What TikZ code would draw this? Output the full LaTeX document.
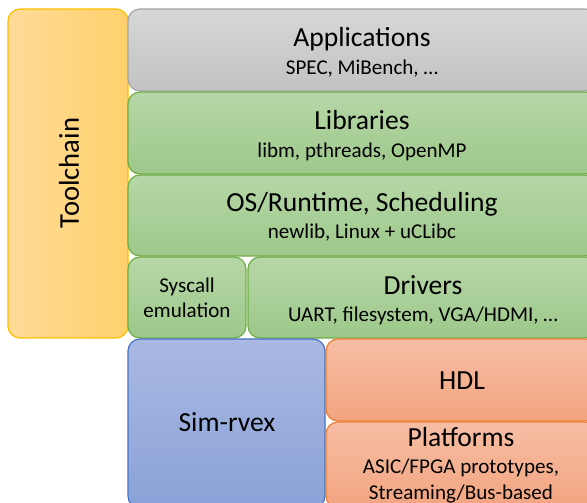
\documentclass[tikz,border=0pt]{standalone}
\usepackage{fontspec}
\setmainfont{Carlito}

\definecolor{grayTop}{HTML}{D7D7D7}
\definecolor{grayBot}{HTML}{C2C2C2}
\definecolor{grayLine}{HTML}{A5A5A5}
\definecolor{greenTop}{HTML}{B6D7A7}
\definecolor{greenBot}{HTML}{9DC88A}
\definecolor{greenLine}{HTML}{70AD47}
\definecolor{goldLeft}{HTML}{FFDB98}
\definecolor{goldRight}{HTML}{FFD16C}
\definecolor{goldLine}{HTML}{FFC000}
\definecolor{blueTop}{HTML}{AAB9E2}
\definecolor{blueBot}{HTML}{8AA2D8}
\definecolor{blueLine}{HTML}{4472C4}
\definecolor{orangeTop}{HTML}{F6BEA5}
\definecolor{orangeBot}{HTML}{F3A47F}
\definecolor{orangeLine}{HTML}{ED7D31}

\tikzset{every picture/.style={line width=0.9pt}}
\tikzset{
  layer/.style={rounded corners=9pt},
  graylayer/.style={layer, draw=grayLine, top color=grayTop, bottom color=grayBot},
  greenlayer/.style={layer, draw=greenLine, top color=greenTop, bottom color=greenBot},
  goldlayer/.style={layer, draw=goldLine, left color=goldLeft, right color=goldRight},
  bluelayer/.style={layer, draw=blueLine, top color=blueTop, bottom color=blueBot},
  orangelayer/.style={layer, draw=orangeLine, top color=orangeTop, bottom color=orangeBot},
  titletext/.style={anchor=base, inner sep=0pt, font=\fontsize{20.7}{25}\selectfont},
  subtext/.style={anchor=base, inner sep=0pt, font=\fontsize{15.8}{19}\selectfont},
}

\begin{document}
\begin{tikzpicture}[x=0.75pt,y=0.75pt,yscale=-1,xscale=1]
\clip (0,0) rectangle (587,503);

%Rounded Rect: Toolchain
\draw [goldlayer] (8,9) rectangle (128,338);
%Rounded Rect: Applications
\draw [graylayer] (128,9) rectangle (597,91);
%Rounded Rect: Libraries
\draw [greenlayer] (128,92) rectangle (597,174);
%Rounded Rect: OS/Runtime
\draw [greenlayer] (128,175) rectangle (597,256);
%Rounded Rect: Syscall emulation
\draw [greenlayer] (128,257) rectangle (246,338);
%Rounded Rect: Drivers
\draw [greenlayer] (248,257) rectangle (597,338);
%Rounded Rect: Sim-rvex
\draw [bluelayer] (128,339) rectangle (325,508);
%Rounded Rect: HDL
\draw [orangelayer] (326,339) rectangle (597,421);
%Rounded Rect: Platforms
\draw [orangelayer] (326,422) rectangle (597,508);

% Text Node
\node [rotate=90, inner sep=0pt, font=\fontsize{21.5}{26}\selectfont] (toolchain) at (69,173) {Toolchain};
% Text Node
\node [titletext] (apps) at (362,47) {Applications};
\node [subtext] (appsSub) at (362,75) {SPEC, MiBench, …};
% Text Node
\node [titletext] (libs) at (362,130) {Libraries};
\node [subtext] (libsSub) at (362,158) {libm, pthreads, OpenMP};
% Text Node
\node [titletext] (os) at (362,212) {OS/Runtime, Scheduling};
\node [subtext] (osSub) at (362,239) {newlib, Linux + uCLibc};
% Text Node
\node [subtext] (syscall) at (187,293) {Syscall};
\node [subtext] (syscallSub) at (187,318) {emulation};
% Text Node
\node [titletext] (drivers) at (423,295) {Drivers};
\node [subtext] (driversSub) at (423,322) {UART, filesystem, VGA/HDMI, …};
% Text Node
\node [titletext] (simrvex) at (227,432) {Sim-rvex};
% Text Node
\node [titletext] (hdl) at (462,390) {HDL};
% Text Node
\node [titletext] (platforms) at (461,447) {Platforms};
\node [subtext] (platformsSub) at (461,474) {ASIC/FPGA prototypes,};
\node [subtext] (platformsSub2) at (461,500) {Streaming/Bus-based};

\end{tikzpicture}
\end{document}
